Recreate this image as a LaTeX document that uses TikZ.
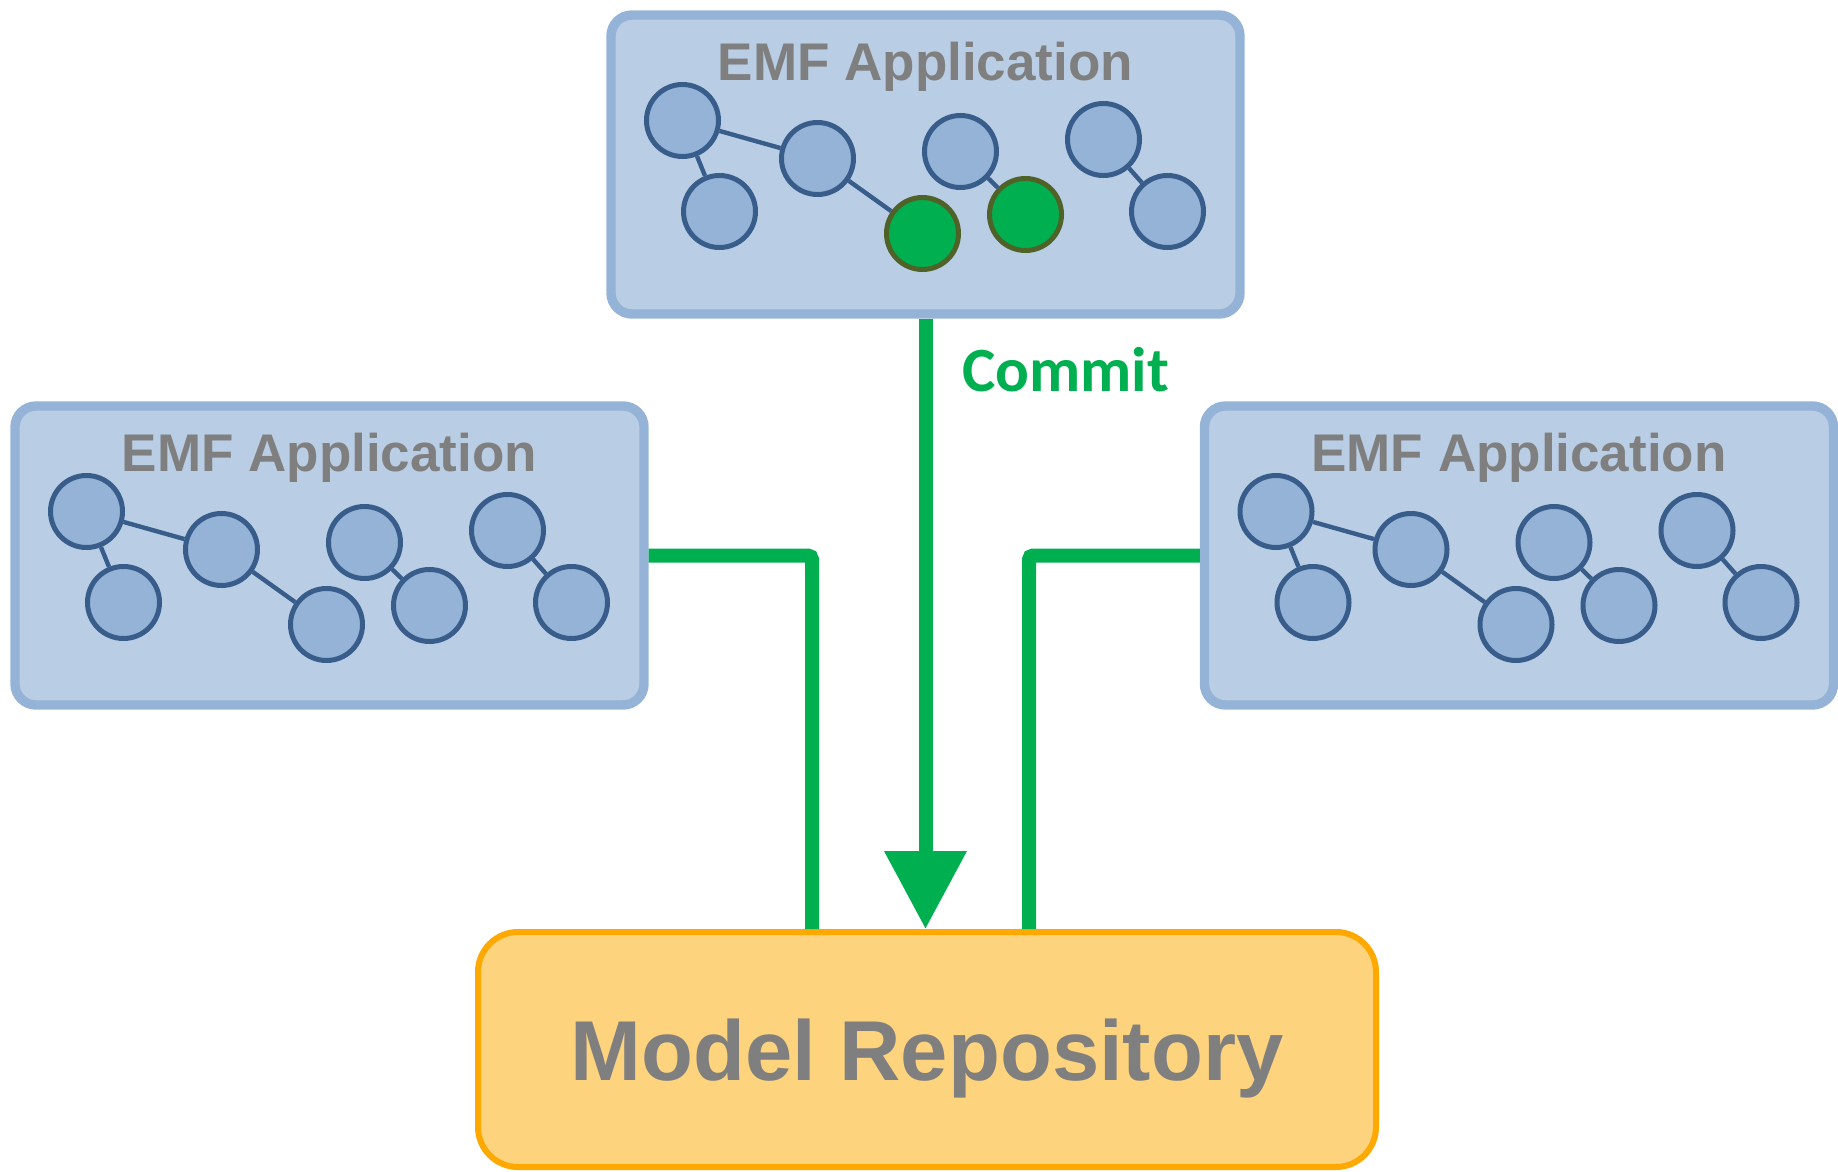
\documentclass[tikz,border=0pt]{standalone}
\usepackage{fontspec}
\setmainfont{Liberation Sans}
\newfontfamily\commitfont{Carlito}
\usetikzlibrary{
    arrows.meta,
    calc,
    positioning
}

\definecolor{appfill}{HTML}{B9CDE5}
\definecolor{appline}{HTML}{95B3D7}
\definecolor{objfill}{HTML}{95B3D7}
\definecolor{objline}{HTML}{385D8A}
\definecolor{freshfill}{HTML}{00B050}
\definecolor{freshline}{HTML}{4F6228}
\definecolor{flowgreen}{HTML}{00B050}
\definecolor{repofill}{HTML}{FDD37D}
\definecolor{repoline}{HTML}{FFA800}
\definecolor{textgray}{HTML}{7F7F7F}

\tikzset{
    appbox/.style={draw=appline, fill=appfill, line width=4.7pt,
        rounded corners=10.5pt, minimum width=314.5pt, minimum height=149.5pt},
    apptitle/.style={text=textgray, font=\fontsize{26.5}{30}\selectfont\bfseries,
        anchor=base, inner sep=0pt},
    obj/.style={circle, draw=objline, fill=objfill, line width=2.5pt,
        minimum size=36pt, inner sep=0pt},
    fresh/.style={obj, draw=freshline, fill=freshfill},
    link/.style={draw=objline, line width=2.2pt},
    repobox/.style={draw=repoline, fill=repofill, line width=3pt,
        rounded corners=20pt, minimum width=449pt, minimum height=117.5pt,
        text=textgray, font=\fontsize{42.5}{48}\selectfont\bfseries, text depth=0pt},
    flow/.style={draw=flowgreen, line width=7pt, rounded corners=2pt}
}

\begin{document}
\begin{tikzpicture}[x=0.5pt, y=-0.5pt]
    \useasboundingbox (0, 0) rectangle (1838, 1172);

    % applications
    \node (app-top) [appbox] at (925.5, 164.5) {};
    \node (app-left) [appbox] at (329.5, 555.5) {};
    \node (app-right) [appbox] at (1519, 555.5) {};
    \foreach \b in {top, left, right}
        \node (title-\b) [apptitle] at ([yshift=-35pt]app-\b.north) {EMF Application};

    % object graphs
    \foreach \b/\ca/\cb in {top/fresh/fresh, left/obj/obj, right/obj/obj} {
        \begin{scope}[shift={(app-\b.center)}]
            \node (\b1) [obj] at (-243, -44) {};
            \node (\b2) [obj] at (-206, 47) {};
            \node (\b3) [obj] at (-108, -6) {};
            \node (\b4) [\ca] at (-3, 69) {};
            \node (\b5) [obj] at (35, -13) {};
            \node (\b6) [\cb] at (100, 50) {};
            \node (\b7) [obj] at (178, -25) {};
            \node (\b8) [obj] at (242, 47) {};
        \end{scope}
        \draw[link]
        (\b1) -- (\b2)
        (\b1) -- (\b3)
        (\b3) -- (\b4)
        (\b5) -- (\b6)
        (\b7) -- (\b8);
    }

    % repository
    \node (repo) [repobox] at (927, 1049.5) {Model Repository};

    % connectors
    \draw[flow] (app-left.east) -| ([xshift=-57.5pt]repo.north);
    \draw[flow] (app-right.west) -| ([xshift=51pt]repo.north);
    \draw[flow, -{Triangle[length=39pt, width=39.5pt]}]
    (app-top.south) -- (app-top.south |- repo.north);
    \node (commit) [text=flowgreen, anchor=west,
        font=\commitfont\fontsize{31.5}{36}\selectfont\bfseries] at (955, 370) {Commit};
\end{tikzpicture}
\end{document}
